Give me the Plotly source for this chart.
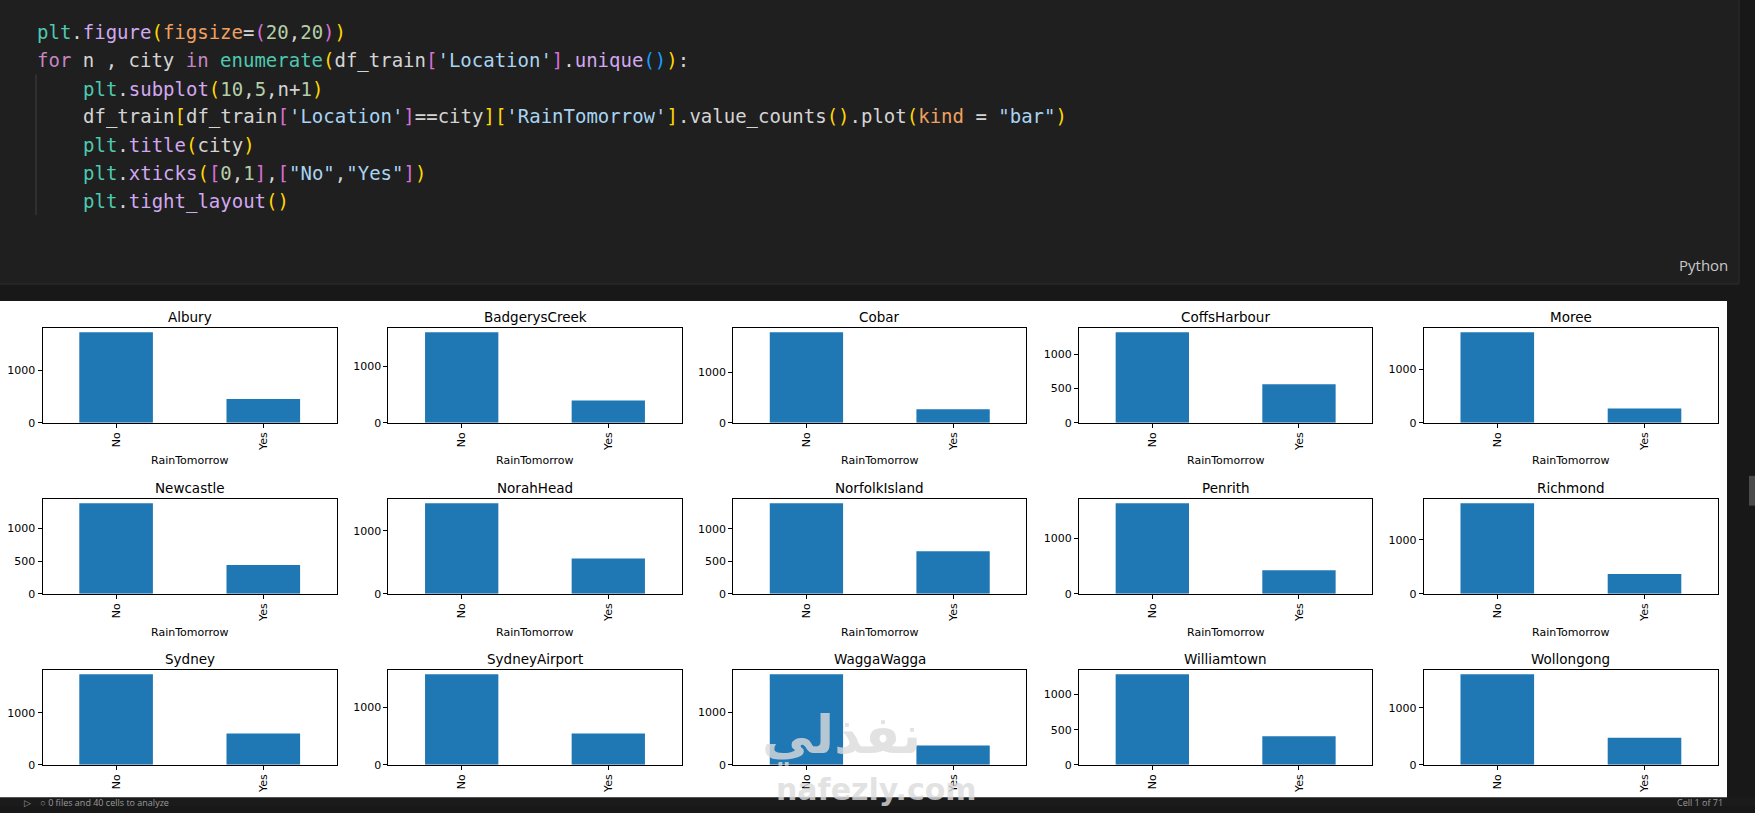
import plotly.graph_objects as go

# ---------------- data ----------------
cities = ["Albury", "BadgerysCreek", "Cobar", "CoffsHarbour", "Moree",
          "Newcastle", "NorahHead", "NorfolkIsland", "Penrith", "Richmond",
          "Sydney", "SydneyAirport", "WaggaWagga", "Williamtown", "Wollongong"]
no_counts = [1717, 1606, 1784, 1325, 1696,
             1384, 1442, 1391, 1641, 1681,
             1744, 1581, 1722, 1289, 1591]
yes_counts = [453, 394, 268, 563, 267,
              439, 563, 655, 425, 368,
              603, 547, 367, 408, 474]
categories = ["No", "Yes"]
x_label = "RainTomorrow"

# ---------------- page geometry (pixels) ----------------
W, H = 1755, 813
DY = 4.5  # vertical offset of the output area
col_left = [42.5, 388.4, 733.1, 1079.0, 1423.7]
col_right = [336.9, 681.6, 1026.4, 1372.3, 1718.1]
row_top = [326.0 + DY, 498.5 + DY, 671.0 + DY]
row_bot = [422.0 + DY, 594.5 + DY, 767.0 + DY]
title_y = [315.0 + DY, 488.0 + DY, 660.0 + DY]
xlabel_y = [460.0 + DY, 633.0 + DY]

def px(x):
    return x / W

def py(y):
    return 1 - y / H

BAR = "#1f77b4"
FONT = "DejaVu Sans"

fig = go.Figure()
layout = dict(
    width=W, height=H, margin=dict(l=0, r=0, t=0, b=0),
    paper_bgcolor="#181818", plot_bgcolor="white", showlegend=False,
    shapes=[], annotations=[],
)

# background pieces of the notebook UI
layout["shapes"] += [
    dict(type="rect", xref="paper", yref="paper", x0=px(-5), x1=px(1739), y0=py(282 + DY), y1=py(-5),
         fillcolor="#1f1f1f", line=dict(color="#2e2e2e", width=1), layer="below"),
    dict(type="line", xref="paper", yref="paper", x0=px(36), x1=px(36), y0=py(217), y1=py(75),
         line=dict(color="#404040", width=1), layer="below"),
    dict(type="rect", xref="paper", yref="paper", x0=px(0), x1=px(1727), y0=py(800 + DY), y1=py(299 + DY),
         fillcolor="white", line=dict(width=0), layer="below"),
    dict(type="rect", xref="paper", yref="paper", x0=px(1749), x1=px(1755), y0=py(510), y1=py(480),
         fillcolor="#4a4a4a", line=dict(width=0), layer="below"),
    dict(type="rect", xref="paper", yref="paper", x0=0, x1=1, y0=0, y1=py(800 + DY),
         fillcolor="#1b1b1b", line=dict(width=0), layer="above"),
]

# ---------------- subplots ----------------
for i, city in enumerate(cities):
    r, c = divmod(i, 5)
    n = i + 1
    xa = "x" if n == 1 else f"x{n}"
    ya = "y" if n == 1 else f"y{n}"
    vals = [no_counts[i], yes_counts[i]]
    fig.add_trace(go.Bar(x=categories, y=vals, xaxis=xa, yaxis=ya, width=0.5,
                         marker=dict(color=BAR, line=dict(width=0)), hoverinfo="x+y"))
    ymax = max(vals) * 1.05
    dtick = 500 if ymax < 1500 else 1000
    axis_common = dict(showline=True, linecolor="black", linewidth=1, mirror=True,
                       ticks="outside", ticklen=4, tickwidth=1, tickcolor="black",
                       showgrid=False, zeroline=False,
                       tickfont=dict(family=FONT, size=11, color="black"))
    layout["xaxis" if n == 1 else f"xaxis{n}"] = dict(
        domain=[px(col_left[c]), px(col_right[c])], anchor=ya, type="category",
        range=[-0.5, 1.5], tickangle=-90, **axis_common)
    layout["yaxis" if n == 1 else f"yaxis{n}"] = dict(
        domain=[py(row_bot[r]), py(row_top[r])], anchor=xa, range=[0, ymax],
        tickmode="linear", tick0=0, dtick=dtick, **axis_common)
    layout["annotations"].append(dict(
        text=city, xref="paper", yref="paper", x=px((col_left[c] + col_right[c]) / 2),
        y=py(title_y[r]), xanchor="center", yanchor="middle", showarrow=False,
        font=dict(family=FONT, size=13.5, color="black")))
    if r < len(xlabel_y):
        layout["annotations"].append(dict(
            text=x_label, xref="paper", yref="paper", x=px((col_left[c] + col_right[c]) / 2),
            y=py(xlabel_y[r]), xanchor="center", yanchor="middle", showarrow=False,
            font=dict(family=FONT, size=11, color="black")))

# ---------------- code cell text ----------------
C_MOD = "#4EC9B0"
C_FN = "#D2A8F0"
C_KW = "#C586C0"
C_ID = "#D4D4D4"
C_NUM = "#B5CEA8"
C_ARG = "#F0A060"
C_STR = "#A8D4F2"
B1, B2, B3 = "#FFD700", "#DA70D6", "#179FFF"

code_lines = [
    (0, [("plt", C_MOD), (".", C_ID), ("figure", C_FN), ("(", B1), ("figsize", C_ARG), ("=", C_ID),
         ("(", B2), ("20", C_NUM), (",", C_ID), ("20", C_NUM), (")", B2), (")", B1)]),
    (0, [("for", C_KW), (" n , city ", C_ID), ("in", C_KW), (" ", C_ID), ("enumerate", C_MOD), ("(", B1),
         ("df_train", C_ID), ("[", B2), ("'Location'", C_STR), ("]", B2), (".", C_ID), ("unique", C_FN),
         ("()", B3), (")", B1), (":", C_ID)]),
    (4, [("plt", C_MOD), (".", C_ID), ("subplot", C_FN), ("(", B1), ("10", C_NUM), (",", C_ID), ("5", C_NUM),
         (",", C_ID), ("n", C_ID), ("+", C_ID), ("1", C_NUM), (")", B1)]),
    (4, [("df_train", C_ID), ("[", B1), ("df_train", C_ID), ("[", B2), ("'Location'", C_STR), ("]", B2),
         ("==city", C_ID), ("]", B1), ("[", B1), ("'RainTomorrow'", C_STR), ("]", B1), (".value_counts", C_ID),
         ("()", B1), (".plot", C_ID), ("(", B1), ("kind", C_ARG), (" = ", C_ID), ('"bar"', C_STR), (")", B1)]),
    (4, [("plt", C_MOD), (".", C_ID), ("title", C_FN), ("(", B1), ("city", C_ID), (")", B1)]),
    (4, [("plt", C_MOD), (".", C_ID), ("xticks", C_FN), ("(", B1), ("[", B2), ("0", C_NUM), (",", C_ID),
         ("1", C_NUM), ("]", B2), (",", C_ID), ("[", B2), ('"No"', C_STR), (",", C_ID), ('"Yes"', C_STR),
         ("]", B2), (")", B1)]),
    (4, [("plt", C_MOD), (".", C_ID), ("tight_layout", C_FN), ("()", B1)]),
]
char_w = 11.44
for k, (indent, toks) in enumerate(code_lines):
    html = "".join(f'<span style="color:{col}">{t}</span>' for t, col in toks)
    layout["annotations"].append(dict(
        text=html, xref="paper", yref="paper", x=px(35 + indent * char_w), y=py(32.3 + 28.5 * k),
        xanchor="left", yanchor="middle", showarrow=False,
        font=dict(family="DejaVu Sans Mono", size=19, color=C_ID)))

layout["annotations"].append(dict(
    text="Python", xref="paper", yref="paper", x=px(1730), y=py(267), xanchor="right", yanchor="middle",
    showarrow=False, font=dict(family="Open Sans", size=15, color="#c8c8c8")))

# status bar text
layout["annotations"] += [
    dict(text="▷    ○ 0 files and 40 cells to analyze", xref="paper", yref="paper", x=px(22), y=py(809.5),
         xanchor="left", yanchor="middle", showarrow=False,
         font=dict(family="Open Sans", size=9, color="#9a9a9a")),
    dict(text="Cell 1 of 71", xref="paper", yref="paper", x=px(1725), y=py(809.5),
         xanchor="right", yanchor="middle", showarrow=False,
         font=dict(family="Open Sans", size=9, color="#9a9a9a")),
]

# watermark
layout["annotations"] += [
    dict(text="<b>نفذلي</b>", xref="paper", yref="paper", x=px(841), y=py(742), xanchor="center",
         yanchor="middle", showarrow=False, opacity=0.8,
         font=dict(family="DejaVu Sans", size=52, color="#dcdcdc")),
    dict(text="<b>nafezly.com</b>", xref="paper", yref="paper", x=px(876), y=py(796), xanchor="center",
         yanchor="middle", showarrow=False, opacity=0.8,
         font=dict(family="DejaVu Sans", size=30, color="#dcdcdc")),
]

fig.update_layout(**layout)
fig.write_html("out.html", config={"displayModeBar": False},
               post_script="document.body.style.margin='0';document.body.style.overflow='hidden';")
